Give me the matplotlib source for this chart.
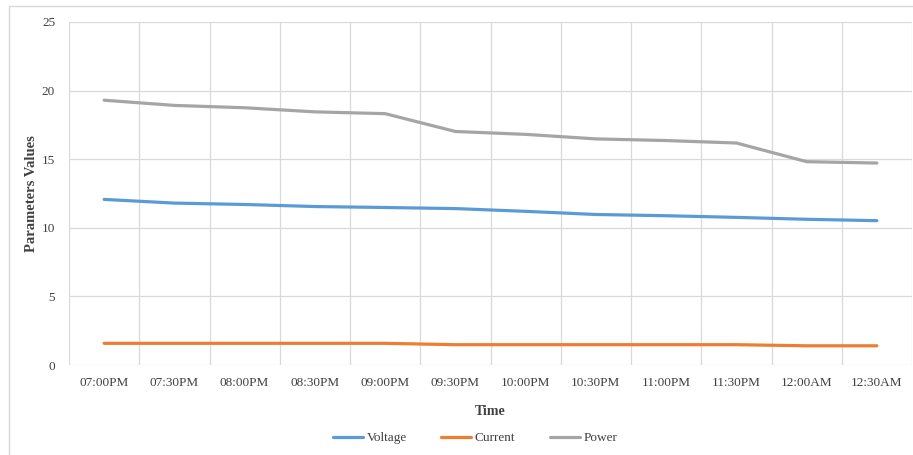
import numpy as np
import matplotlib.pyplot as plt

times = ["07:00PM", "07:30PM", "08:00PM", "08:30PM", "09:00PM", "09:30PM",
         "10:00PM", "10:30PM", "11:00PM", "11:30PM", "12:00AM", "12:30AM"]
voltage = [12.07, 11.8, 11.7, 11.55, 11.48, 11.4, 11.2, 10.97, 10.88, 10.76, 10.62, 10.52]
current = [1.58, 1.58, 1.58, 1.58, 1.58, 1.48, 1.48, 1.48, 1.48, 1.48, 1.4, 1.4]
power = [19.3, 18.92, 18.75, 18.45, 18.32, 17.02, 16.81, 16.48, 16.36, 16.18, 14.82, 14.72]

plt.rcParams['font.family'] = ['Liberation Serif', 'DejaVu Serif']

fig = plt.figure(figsize=(9.13, 4.55), dpi=100)
ax = fig.add_axes([69/913, 1-365/455, 843/913, 343/455])

x = np.arange(len(times))
ax.plot(x, voltage, color='#5B9BD5', lw=2.3, label='Voltage', solid_capstyle='round')
ax.plot(x, current, color='#ED7D31', lw=2.3, label='Current', solid_capstyle='round')
ax.plot(x, power, color='#A5A5A5', lw=2.3, label='Power', solid_capstyle='round')

ax.set_xlim(-0.5, len(times) - 0.5)
ax.set_ylim(0, 25)
ax.set_yticks([0, 5, 10, 15, 20, 25])
ax.set_xticks(x)
ax.set_xticklabels(times)
ax.set_xticks(np.arange(-0.5, len(times)), minor=True)
ax.grid(True, which='major', axis='y', color='#d9d9d9', lw=0.9)
ax.grid(True, which='minor', axis='x', color='#d9d9d9', lw=0.9)
ax.tick_params(which='both', length=0)
ax.tick_params(axis='both', labelsize=9.5, colors='#404040', pad=10)
ax.tick_params(axis='x', pad=9)
for s in ax.spines.values():
    s.set_visible(False)
ax.set_axisbelow(True)

ax.set_xlabel('Time', fontsize=10, fontweight='bold', color='#404040', labelpad=11)
ax.set_ylabel('Parameters Values', fontsize=10.5, fontweight='bold', color='#404040', labelpad=3)

leg = fig.legend(loc='center', bbox_to_anchor=(475/913, 1-438/455), ncol=3, frameon=False,
                 fontsize=9.5, handlelength=2.3, columnspacing=2.6, handletextpad=0.25)
for t in leg.get_texts():
    t.set_color('#404040')

fig.patches.append(plt.Rectangle((9/913, -0.05), 1.0, 1.05 - 6/455, transform=fig.transFigure,
                                 fill=False, edgecolor='#d9d9d9', lw=1))

fig.savefig('out.png', dpi=100)
